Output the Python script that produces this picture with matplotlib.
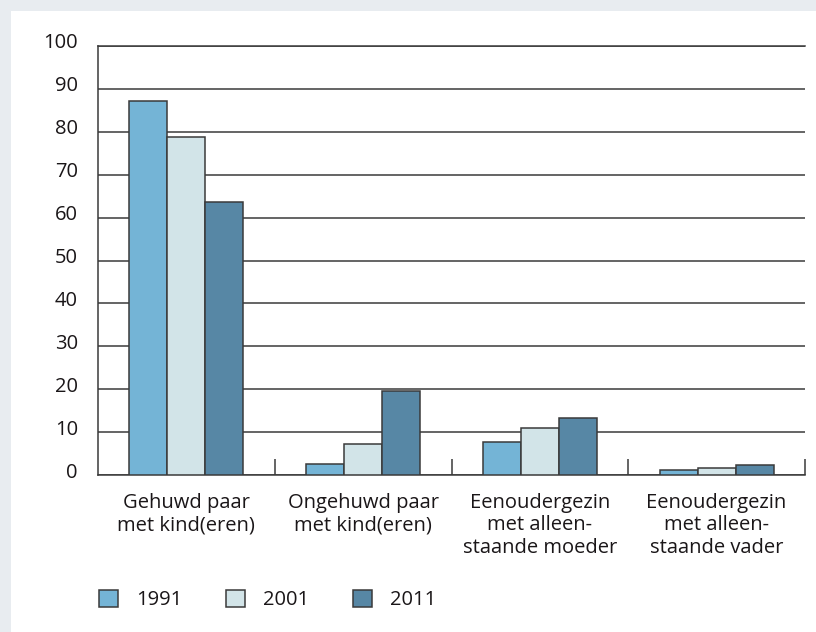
import matplotlib.pyplot as plt
import matplotlib.transforms as mtransforms
import numpy as np
from matplotlib.patches import Rectangle

categories = ["Gehuwd paar\nmet kind(eren)",
              "Ongehuwd paar\nmet kind(eren)",
              "Eenoudergezin\nmet alleen-\nstaande moeder",
              "Eenoudergezin\nmet alleen-\nstaande vader"]
years = ["1991", "2001", "2011"]
v1991 = [87.2, 2.5, 7.6, 1.2]
v2001 = [78.8, 7.2, 10.9, 1.6]
v2011 = [63.6, 19.6, 13.3, 2.3]
colors = ["#74b4d6", "#d2e4e8", "#5787a5"]

plt.rcParams["font.family"] = ["Open Sans", "DejaVu Sans"]
txt = "#1a1618"
line = "#3a3a3a"
fs = 14.5

fig = plt.figure(figsize=(8.16, 6.32), dpi=100, facecolor="#e8ecf0")
fig.patches.append(Rectangle((11/816, 0), 1, 1-11/632, transform=fig.transFigure,
                             facecolor="white", edgecolor="none", zorder=-5))

ax = fig.add_axes([98/816, 1-475/632, 707/816, 429/632])
ax.set_facecolor("none")

x = np.arange(len(categories))
w = 0.215
for i, (vals, lab) in enumerate(zip([v1991, v2001, v2011], years)):
    ax.bar(x + (i-1)*w, vals, w, color=colors[i], edgecolor=line, linewidth=1.1,
           label=lab, zorder=3)

ax.set_xlim(-0.5, 3.5)
ax.set_ylim(0, 100)
ax.set_yticks(np.arange(0, 101, 10))
ax.yaxis.grid(True, color=line, linewidth=1.1)
ax.set_axisbelow(True)

for s in ["left", "bottom", "top"]:
    ax.spines[s].set_color(line)
    ax.spines[s].set_linewidth(1.1)
ax.spines["right"].set_visible(False)

ax.tick_params(axis="y", length=0, pad=14.5, labelsize=fs, labelcolor=txt)
ax.set_xticks(x)
ax.set_xticklabels(categories, fontsize=fs, color=txt, linespacing=1.15, va="top")
ax.tick_params(axis="x", which="major", length=0, pad=13)
ax.set_xticks([0.5, 1.5, 2.5, 3.5], minor=True)
ax.tick_params(axis="x", which="minor", direction="in", length=11.5, width=1.1, color=line)

off = mtransforms.ScaledTranslation(0, 5/100, fig.dpi_scale_trans)
for lab in ax.get_yticklabels():
    lab.set_transform(lab.get_transform() + off)

fig.legend(loc="center left", bbox_to_anchor=(81/816, 1-600/632), ncol=3, frameon=False,
           fontsize=fs, handlelength=0.95, handleheight=0.95, handletextpad=0.9,
           columnspacing=2.15, labelcolor=txt)

fig.savefig("out.png", dpi=100, facecolor=fig.get_facecolor())
